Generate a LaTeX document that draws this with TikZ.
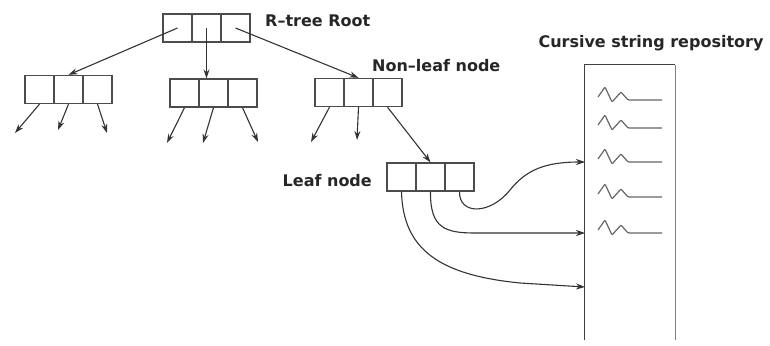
\documentclass[tikz,border=0pt]{standalone}
\usepackage{fontspec}
\setmainfont{DejaVu Sans}
\usetikzlibrary{arrows.meta}

\begin{document}
\begin{tikzpicture}[x=1pt, y=-1pt, >={Stealth[length=9pt,width=6pt]},
  font=\fontsize{16}{19}\selectfont\bfseries,
  cell/.style={draw=black!70, line width=1.3pt, minimum width=29pt, minimum height=28pt, inner sep=0pt},
  ed/.style={->, black!80, line width=1.1pt},
  lbl/.style={inner sep=0pt, text=black!85},
  wall/.style={black!75, line width=1.3pt},
  sq/.style={black!60, line width=1.2pt, rounded corners=1pt}]
\useasboundingbox (0,0) rectangle (770,345);
\def\cw{29}
% R-tree nodes, three cells each
\foreach \i in {1,2,3} {
  \node[cell] (r\i) at (163+\i*\cw-\cw/2,28) {};
  \node[cell] (a\i) at (25+\i*\cw-\cw/2,89.5) {};
  \node[cell] (b\i) at (170+\i*\cw-\cw/2,93) {};
  \node[cell] (c\i) at (315+\i*\cw-\cw/2,92.5) {};
  \node[cell] (l\i) at (387+\i*\cw-\cw/2,177) {};
}
\node[lbl, anchor=west] (rootlbl) at (265,21) {R--tree Root};
\node[lbl, anchor=west] (nonleaflbl) at (372,66) {Non--leaf node};
\node[lbl, anchor=east] (leaflbl) at (372,181) {Leaf node};
% root -> children
\draw[ed] (r1.center) -- (a2.north);
\draw[ed] (r2.center) -- (r2.center |- b2.north);
\draw[ed] (r3.center) -- (c2.north);
\draw[ed] (c3.south) -- (l2.north);
% pointers to lower levels (not shown)
\foreach \n/\x/\y in {a1/15/133, a2/58/130, a3/107/133, b1/167/143, b2/203/143,
                      b3/258/142, c1/311/142, c2/357/140}
  \coordinate (t\n) at (\x,\y);
\foreach \n in {a1,a2,a3,b1,b2,b3,c1,c2}
  \draw[ed] (\n.south) -- (t\n);
% the repository
\node[lbl] (repolbl) at (651,43) {Cursive string repository};
\node[minimum width=90pt, minimum height=275pt, inner sep=0pt] (repo) at (630,202.5) {};
\draw[wall] (repo.south west) |- (repo.north east);
\draw[wall, black!50] (repo.north east) -- (repo.south east);
\foreach \y in {100,128,162,197,233}
  \draw[sq] (598,\y-3) -- ++(7,-10) -- ++(7,15) -- ++(9,-10) -- ++(7,8) -- (662,\y);
\coordinate (e1) at (585,162);
\coordinate (e2) at (585,233);
\coordinate (e3) at (585,287);
% leaf entries -> strings
\draw[ed] (l3.south) .. controls (459,215) and (490,215) .. (510,190)
  .. controls (526,170) and (545,162) .. (e1);
\draw[ed] (l2.south) .. controls (430,228) and (445,233) .. (475,233) -- (e2);
\draw[ed] (l1.south) .. controls (403,250) and (440,275) .. (520,283) -- (e3);
\end{tikzpicture}
\end{document}
